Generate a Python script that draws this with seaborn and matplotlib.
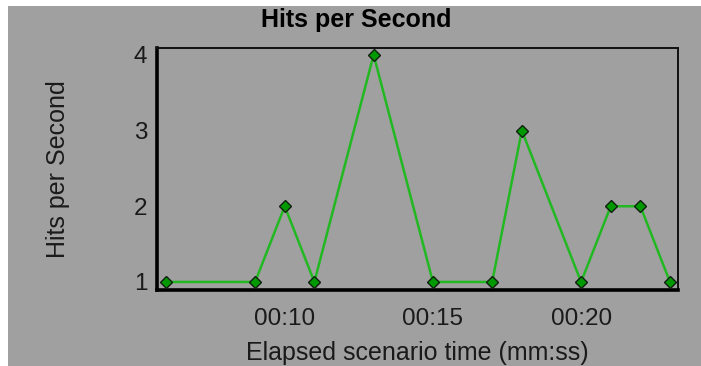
import matplotlib
matplotlib.use("Agg")
import matplotlib.pyplot as plt
import seaborn as sns
import pandas as pd
from matplotlib.patches import Rectangle
from matplotlib import font_manager

# ---- data ----
elapsed_seconds = [6, 9, 10, 11, 13, 15, 17, 18, 20, 21, 22, 23]
hits_per_second = [1, 1, 2, 1, 4, 1, 1, 3, 1, 2, 2, 1]
x_tick_values = [10, 15, 20]
x_tick_labels = ["00:10", "00:15", "00:20"]
y_tick_values = [1, 2, 3, 4]

df = pd.DataFrame({"t": elapsed_seconds, "hits": hits_per_second})

sns.set_style("white")
names = {f.name for f in font_manager.fontManager.ttflist}
base = ["Liberation Sans", "DejaVu Sans"]
title_fam = [n for n in ["Liberation Sans Narrow", "DejaVu Sans Condensed"] if n in names] + base
plt.rcParams["font.family"] = base

GRAY = "#a0a0a0"
fig = plt.figure(figsize=(7.01, 3.66), dpi=100, facecolor="white")
# gray panel with white strip at top and left
fig.patches.append(Rectangle((8 / 701, 0), 1, 1 - 6 / 366, transform=fig.transFigure,
                             facecolor=GRAY, edgecolor="none", zorder=-5))

ax = fig.add_axes([157 / 701, 76 / 366, (678 - 157) / 701, (318 - 76) / 366])
ax.set_zorder(1)
ax.set_facecolor(GRAY)

sns.lineplot(data=df, x="t", y="hits", ax=ax, color="#22b822", linewidth=1.8,
             marker="D", markersize=6, markerfacecolor="#009a00",
             markeredgecolor="#102010", markeredgewidth=1.0, zorder=3)

ax.set_xlim(5.69, 23.27)
ax.set_ylim(0.894, 4.09)
ax.set_xticks(x_tick_values)
ax.set_xticklabels(x_tick_labels)
ax.set_yticks(y_tick_values)
ax.set_yticklabels([str(v) for v in y_tick_values])

for s in ["left", "bottom"]:
    ax.spines[s].set_linewidth(2.6)
    ax.spines[s].set_color("black")
for s in ["top", "right"]:
    ax.spines[s].set_visible(True)
    ax.spines[s].set_linewidth(1.4)
    ax.spines[s].set_color("#111111")

ax.tick_params(axis="x", length=3, width=0.8, color="#707070", pad=10,
               labelsize=17.5, labelcolor="#1a1a1a", direction="out")
ax.tick_params(axis="y", length=0, pad=7, labelsize=17.5, labelcolor="#1a1a1a")

ax.set_xlabel("Elapsed scenario time (mm:ss)", fontsize=18, color="#1a1a1a", labelpad=8)
ax.set_ylabel("Hits per Second", fontsize=18, color="#1a1a1a", labelpad=46)
fig.text(356 / 701, 1 - 20 / 366, "Hits per Second", ha="center", va="center",
         fontsize=18, fontweight="bold", family=title_fam, fontstretch="condensed",
         color="black")

fig.savefig("out.png", dpi=100, facecolor=fig.get_facecolor())
